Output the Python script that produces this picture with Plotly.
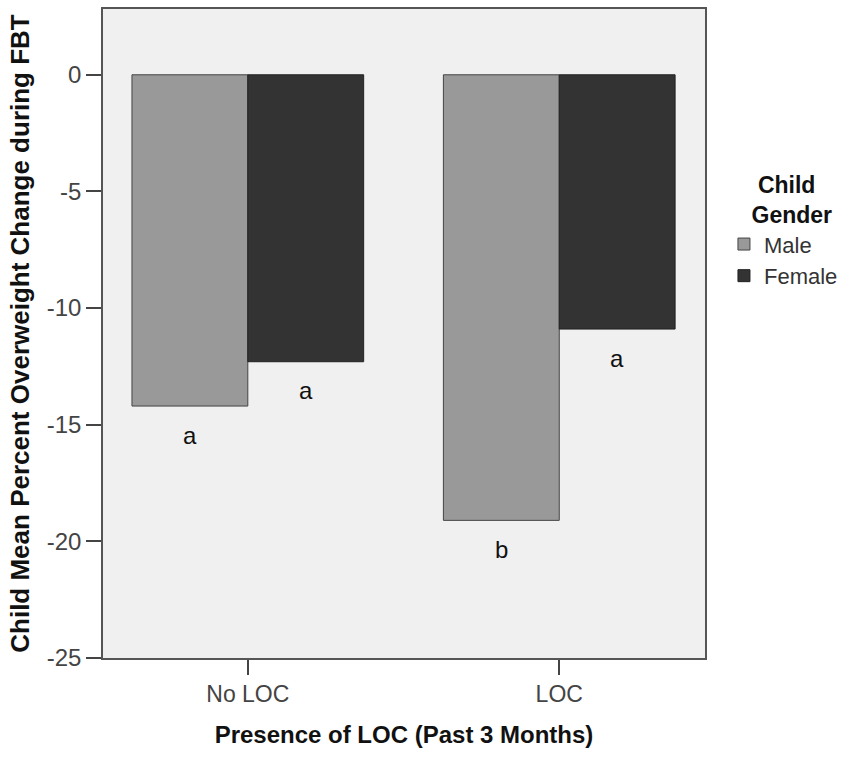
import plotly.graph_objects as go

categories = ["No LOC", "LOC"]
male_values = [-14.2, -19.1]
female_values = [-12.3, -10.9]
male_letters = ["a", "b"]
female_letters = ["a", "a"]
y_ticks = [0, -5, -10, -15, -20, -25]
y_ticktext = ["0", "-5", "-10", "-15", "-20", "-25"]

FONT = "Liberation Sans, Arial, sans-serif"

fig = go.Figure()
fig.add_trace(go.Bar(name="Male", x=categories, y=male_values,
                     marker=dict(color="#999999", line=dict(color="#444444", width=1))))
fig.add_trace(go.Bar(name="Female", x=categories, y=female_values,
                     marker=dict(color="#333333", line=dict(color="#222222", width=1))))

bargap = 0.256
half = (1 - bargap) / 4
annotations = []
for i in range(len(categories)):
    annotations.append(dict(x=i - half, y=male_values[i], xref="x", yref="y",
                            text=male_letters[i], showarrow=False, yshift=-29,
                            font=dict(size=24, color="#111111", family=FONT)))
    annotations.append(dict(x=i + half, y=female_values[i], xref="x", yref="y",
                            text=female_letters[i], showarrow=False, yshift=-29,
                            font=dict(size=24, color="#111111", family=FONT)))

fig.update_layout(
    width=850, height=757,
    margin=dict(l=103, r=144, t=7, b=99),
    barmode="group", bargap=bargap, bargroupgap=0,
    plot_bgcolor="#f0f0f0", paper_bgcolor="white",
    font=dict(family=FONT, color="#333333", size=22),
    annotations=annotations,
    legend=dict(
        title=dict(text="<b>" + "&nbsp;" * 5 + "Child<br>" + "&nbsp;" * 4 + "Gender</b>",
                   font=dict(size=23, color="#111111"), side="top"),
        x=(725 - 103) / 603, xanchor="left", y=0.762, yanchor="top",
        font=dict(size=22, color="#333333"), tracegroupgap=0, itemwidth=30,
        bgcolor="rgba(0,0,0,0)",
    ),
)
fig.update_xaxes(
    range=[-0.465, 1.468], showline=True, linecolor="#555555", linewidth=1.5, mirror=True,
    ticks="outside", ticklen=15, tickcolor="#444444", tickwidth=1.5,
    tickfont=dict(size=23, color="#444444"), showgrid=False,
    title=dict(text="<b>Presence of LOC (Past 3 Months)</b>", font=dict(size=24, color="#111111"), standoff=20),
)
fig.update_yaxes(
    range=[-25, 2.82], tickvals=y_ticks, ticktext=y_ticktext,
    showline=True, linecolor="#555555", linewidth=1.5, mirror=True,
    ticks="outside", ticklen=15, tickcolor="#444444", tickwidth=1.5,
    tickfont=dict(size=24, color="#444444"), showgrid=False, zeroline=False,
    title=dict(text="<b>Child Mean Percent Overweight Change during FBT</b>", font=dict(size=26, color="#111111"), standoff=10),
)

fig.write_html("out.html")
